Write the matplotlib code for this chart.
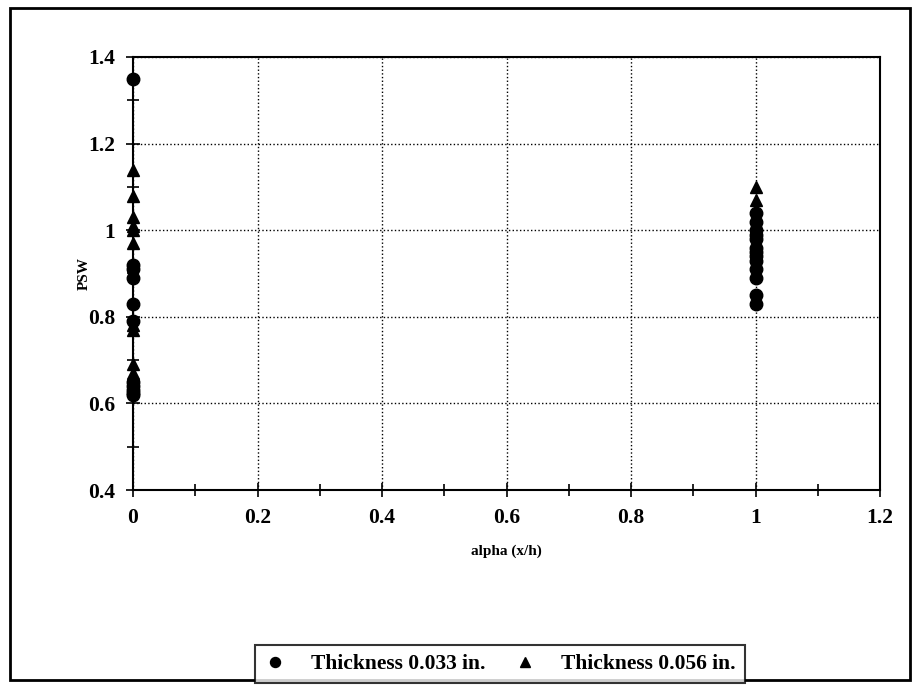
import matplotlib.pyplot as plt
from matplotlib.patches import Rectangle
from matplotlib.ticker import MultipleLocator

# PSW values
alpha_033 = [0, 0, 0, 0, 0, 0, 0, 0, 0, 0, 0,
             1, 1, 1, 1, 1, 1, 1, 1, 1, 1, 1, 1, 1]
psw_033 = [1.35, 0.92, 0.91, 0.89, 0.83, 0.79, 0.65, 0.64, 0.63, 0.62, 0.625,
           1.04, 1.02, 1.0, 0.99, 0.98, 0.96, 0.95, 0.94, 0.93, 0.91, 0.89, 0.85, 0.83]

alpha_056 = [0, 0, 0, 0, 0, 0, 0, 0, 0, 0, 1, 1]
psw_056 = [1.14, 1.08, 1.03, 1.0, 0.97, 0.78, 0.77, 0.69, 0.67, 1.01, 1.10, 1.07]

plt.rcParams['font.family'] = ['Liberation Serif', 'DejaVu Serif']

fig = plt.figure(figsize=(9.19, 6.87), dpi=100)
ax = fig.add_axes([133 / 919, 1 - 490 / 687, (880 - 133) / 919, (490 - 57) / 687])

ax.plot(alpha_033, psw_033, 'o', color='black', markersize=9, label='Thickness 0.033 in.', clip_on=False)
ax.plot(alpha_056, psw_056, '^', color='black', markersize=9, label='Thickness 0.056 in.', clip_on=False)

ax.set_xlim(0, 1.2)
ax.set_ylim(0.4, 1.4)
ax.xaxis.set_minor_locator(MultipleLocator(0.1))
ax.yaxis.set_minor_locator(MultipleLocator(0.1))
ax.set_xticks([0, 0.2, 0.4, 0.6, 0.8, 1.0, 1.2], ['0', '0.2', '0.4', '0.6', '0.8', '1', '1.2'])
ax.set_yticks([0.4, 0.6, 0.8, 1.0, 1.2, 1.4], ['0.4', '0.6', '0.8', '1', '1.2', '1.4'])
ax.tick_params(which='both', direction='inout', color='black', width=1.2)
ax.tick_params(which='major', length=10, labelsize=15.5, pad=8)
ax.tick_params(which='minor', length=8)
for lab in ax.get_xticklabels() + ax.get_yticklabels():
    lab.set_fontweight('bold')

ax.grid(True, which='major', linestyle=':', color='black', linewidth=1)
for s in ax.spines.values():
    s.set_linewidth(1.5)

ax.set_xlabel('alpha (x/h)', fontsize=11, fontweight='bold', labelpad=12)
ax.set_ylabel('PSW', fontsize=11, fontweight='bold', labelpad=-2)

# outer border
fig.patches.append(Rectangle((10 / 919, 7 / 687), 900 / 919, 672 / 687, transform=fig.transFigure,
                             fill=False, edgecolor='black', linewidth=2))

leg = fig.legend(loc='center', bbox_to_anchor=(500 / 919, 1 - 664 / 687), ncol=2,
                 frameon=True, fancybox=False, edgecolor='black', fontsize=15.5,
                 handlelength=1.0, handletextpad=1.2, columnspacing=1.3, borderpad=0.4,
                 borderaxespad=0, markerscale=0.8)
leg.get_frame().set_linewidth(1.5)
for t in leg.get_texts():
    t.set_fontweight('bold')

fig.savefig('out.png', dpi=100)
